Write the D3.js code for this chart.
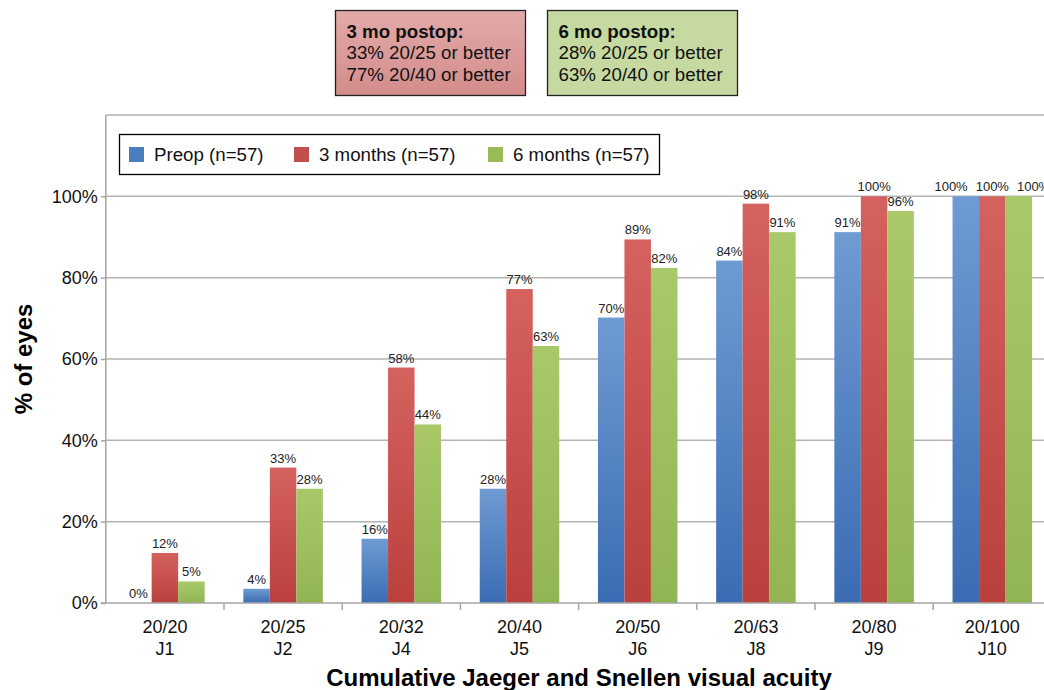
<!DOCTYPE html>
<html>
<head>
<meta charset="utf-8">
<script src="https://cdn.jsdelivr.net/npm/d3@7"></script>
<style>
  body { margin: 0; background: #fff; }
  svg { font-family: "Liberation Sans", Arial, sans-serif; }
</style>
</head>
<body>
<div id="chart"></div>
<script>
// categories (two-line tick labels)
var snellen = ["20/20", "20/25", "20/32", "20/40", "20/50", "20/63", "20/80", "20/100"];
var jaeger = ["J1", "J2", "J4", "J5", "J6", "J8", "J9", "J10"];

// cumulative % of eyes
var preop = [0, 3.5, 15.8, 28.1, 70.2, 84.2, 91.2, 100];
var month3 = [12.3, 33.3, 57.9, 77.2, 89.4, 98.2, 100, 100];
var month6 = [5.3, 28.1, 43.9, 63.2, 82.4, 91.2, 96.4, 100];

var seriesNames = ["Preop (n=57)", "3 months (n=57)", "6 months (n=57)"];
var yTicks = [0, 20, 40, 60, 80, 100];

var note3 = ["3 mo postop:", "33% 20/25 or better", "77% 20/40 or better"];
var note6 = ["6 mo postop:", "28% 20/25 or better", "63% 20/40 or better"];

var colors = [
  {top: "#6f9bd3", bottom: "#3b6cb3", key: "#4a7ebf"},
  {top: "#d5625f", bottom: "#b9403d", key: "#c0504d"},
  {top: "#a9c968", bottom: "#92b553", key: "#9bbb59"}
];

var W = 1044, H = 690;
var margin = {left: 105.8, top: 115, bottom: 87};
var bandW = 118.2;
var plotH = H - margin.top - margin.bottom;

var svg = d3.select("#chart").append("svg")
    .attr("width", W)
    .attr("height", H);

var defs = svg.append("defs");
colors.forEach(function(c, i) {
  var g = defs.append("linearGradient")
      .attr("id", "grad" + i)
      .attr("x1", 0).attr("y1", 0).attr("x2", 0).attr("y2", 1);
  g.append("stop").attr("offset", "0%").attr("stop-color", c.top);
  g.append("stop").attr("offset", "100%").attr("stop-color", c.bottom);
});
var rg = defs.append("linearGradient").attr("id", "noteRed")
    .attr("x1", 0).attr("y1", 0).attr("x2", 0).attr("y2", 1);
rg.append("stop").attr("offset", "0%").attr("stop-color", "#e2aaaa");
rg.append("stop").attr("offset", "100%").attr("stop-color", "#d38c8a");

var x = d3.scaleBand()
    .domain(snellen)
    .range([margin.left, margin.left + bandW * snellen.length]);

var xSub = d3.scaleBand()
    .domain([0, 1, 2])
    .range([0, bandW])
    .paddingOuter(0.73)
    .paddingInner(0);

var y = d3.scaleLinear()
    .domain([0, 120])
    .range([margin.top + plotH, margin.top]);

var plot = svg.append("g");

// gridlines
plot.selectAll(".grid")
    .data(yTicks.slice(1).concat([120]))
  .enter().append("line")
    .attr("x1", margin.left)
    .attr("x2", W)
    .attr("y1", function(d) { return y(d); })
    .attr("y2", function(d) { return y(d); })
    .attr("stroke", "#b3b3b3")
    .attr("stroke-width", 1.5);

// bars
var data = [preop, month3, month6];
var labels = [];
data.forEach(function(series, s) {
  plot.selectAll(".bar" + s)
      .data(series)
    .enter().append("rect")
      .attr("x", function(d, i) { return x(snellen[i]) + xSub(s); })
      .attr("width", xSub.bandwidth())
      .attr("y", function(d) { return y(d); })
      .attr("height", function(d) { return y(0) - y(d); })
      .attr("fill", "url(#grad" + s + ")");

  labels[s] = plot.selectAll(".lab" + s)
      .data(series)
    .enter().append("text")
      .attr("x", function(d, i) { return x(snellen[i]) + xSub(s) + xSub.bandwidth() / 2; })
      .attr("y", function(d) { return y(d) - 5; })
      .attr("text-anchor", "middle")
      .attr("font-size", 13)
      .attr("fill", "#222")
      .text(function(d) { return Math.round(d) + "%"; });
});

// spread labels that collide within a group (like Excel does)
snellen.forEach(function(cat, i) {
  var nodes = labels.map(function(sel) { return sel.nodes()[i]; });
  var w = nodes.map(function(n) { return n.getComputedTextLength(); });
  var c = nodes.map(function(n) { return +n.getAttribute("x"); });
  var gap = 8;
  var overlap = false;
  for (var k = 1; k < 3; k++) {
    var ya = +nodes[k - 1].getAttribute("y"), yb = +nodes[k].getAttribute("y");
    if (Math.abs(ya - yb) < 12 && c[k] - c[k - 1] < (w[k - 1] + w[k]) / 2 + 2) overlap = true;
  }
  if (overlap) {
    nodes[0].setAttribute("x", c[1] - (w[0] + w[1]) / 2 - gap);
    nodes[2].setAttribute("x", c[1] + (w[1] + w[2]) / 2 + gap);
  }
});

// y axis
var yAxis = d3.axisLeft(y)
    .tickValues(yTicks)
    .tickSize(5)
    .tickFormat(function(d) { return d + "%"; });
var gy = svg.append("g")
    .attr("transform", "translate(" + margin.left + ",0)")
    .call(yAxis);
gy.select(".domain").attr("stroke", "#a6a6a6").attr("stroke-width", 1.5)
    .attr("d", "M0," + y(120) + "V" + y(0));
gy.selectAll(".tick line").attr("stroke", "#a6a6a6").attr("stroke-width", 1.5);
gy.selectAll(".tick text")
    .attr("font-size", 18)
    .attr("fill", "#111")
    .attr("x", -8)
    .attr("font-family", "Liberation Sans, Arial, sans-serif");

// x axis
var gx = svg.append("g")
    .attr("transform", "translate(0," + y(0) + ")");
gx.append("line")
    .attr("x1", margin.left - 5).attr("x2", W)
    .attr("stroke", "#a6a6a6").attr("stroke-width", 1.5);
gx.selectAll(".xtick")
    .data(snellen)
  .enter().append("line")
    .attr("x1", function(d) { return x(d) + bandW; })
    .attr("x2", function(d) { return x(d) + bandW; })
    .attr("y1", 0).attr("y2", 7)
    .attr("stroke", "#a6a6a6").attr("stroke-width", 1.5);
var xl = gx.selectAll(".xlab")
    .data(snellen)
  .enter().append("text")
    .attr("text-anchor", "middle")
    .attr("font-size", 18)
    .attr("fill", "#111")
    .attr("x", function(d) { return x(d) + bandW / 2; });
xl.append("tspan")
    .attr("x", function(d) { return x(d) + bandW / 2; })
    .attr("y", 30)
    .text(function(d) { return d; });
xl.append("tspan")
    .attr("x", function(d) { return x(d) + bandW / 2; })
    .attr("y", 52)
    .text(function(d, i) { return jaeger[i]; });

// axis titles
svg.append("text")
    .attr("transform", "translate(32," + (y(60)) + ") rotate(-90)")
    .attr("text-anchor", "middle")
    .attr("font-size", 24)
    .attr("font-weight", "bold")
    .text("% of eyes");

svg.append("text")
    .attr("x", 579)
    .attr("y", 686)
    .attr("text-anchor", "middle")
    .attr("font-size", 24)
    .attr("font-weight", "bold")
    .text("Cumulative Jaeger and Snellen visual acuity");

// legend
var legend = svg.append("g");
legend.append("rect")
    .attr("x", 119.5).attr("y", 134.5)
    .attr("width", 540).attr("height", 40)
    .attr("fill", "#fff").attr("stroke", "#000").attr("stroke-width", 1.3);
var legX = [129, 294, 488];
seriesNames.forEach(function(name, i) {
  legend.append("rect")
      .attr("x", legX[i]).attr("y", 147)
      .attr("width", 15).attr("height", 15)
      .attr("fill", colors[i].key);
  legend.append("text")
      .attr("x", legX[i] + 25).attr("y", 161)
      .attr("font-size", 18.7)
      .attr("fill", "#111")
      .text(name);
});

// note boxes
function noteBox(x0, lines, fill) {
  var g = svg.append("g");
  g.append("rect")
      .attr("x", x0).attr("y", 10.5)
      .attr("width", 190).attr("height", 85)
      .attr("fill", fill)
      .attr("stroke", "#222").attr("stroke-width", 1.3);
  lines.forEach(function(t, i) {
    g.append("text")
        .attr("x", x0 + 11)
        .attr("y", 38 + i * 21.3)
        .attr("font-size", 18.7)
        .attr("font-weight", i === 0 ? "bold" : "normal")
        .attr("fill", "#111")
        .text(t);
  });
}
noteBox(335.5, note3, "url(#noteRed)");
noteBox(547.5, note6, "#c5d9a0");
</script>
</body>
</html>
